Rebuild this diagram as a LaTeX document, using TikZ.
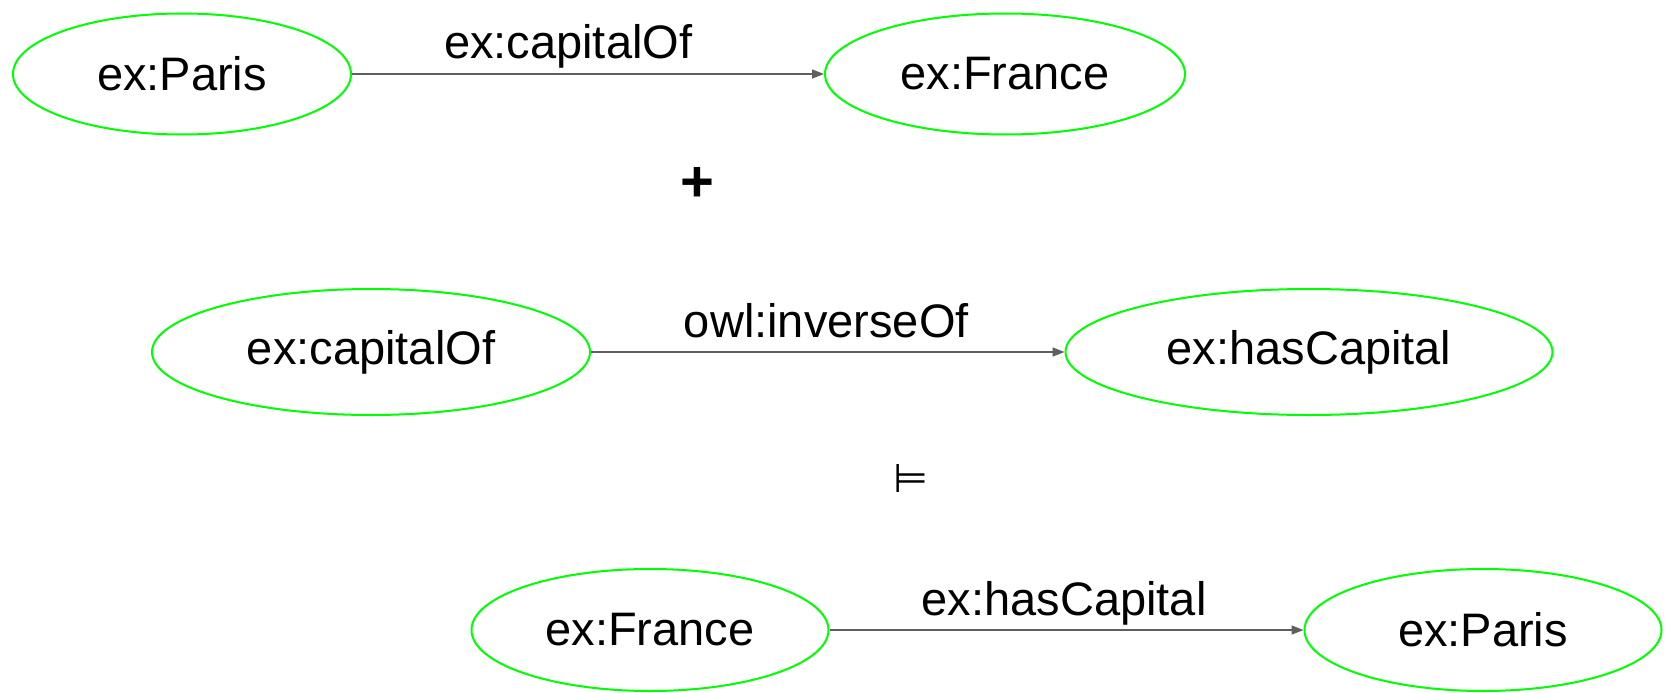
\documentclass[tikz,border=0pt]{standalone}
\usepackage{fontspec}
\setmainfont{Liberation Sans}
\newfontfamily\symfont{DejaVu Sans}
\usetikzlibrary{shapes.geometric,arrows.meta}
\definecolor{resgreen}{RGB}{0,255,0}
\definecolor{edgegray}{RGB}{95,95,95}
\begin{document}
\begin{tikzpicture}[x=1pt,y=-1pt,
  res/.style={ellipse,draw=resgreen,line width=2pt,inner sep=0pt,
    font=\fontsize{47}{52}\selectfont},
  rel/.style={draw=edgegray,line width=1.6pt,-{Triangle[length=12pt,width=9pt]}},
  rellabel/.style={anchor=base,yshift=15pt,inner sep=0pt,font=\fontsize{47}{52}\selectfont}]
\useasboundingbox (0,0) rectangle (1667,693);

% fact: Paris is the capital of France
\node[res,minimum width=338pt,minimum height=121pt] (paris1) at (182,74) {ex:Paris};
\node[res,minimum width=360pt,minimum height=121pt] (france1) at (1005,74) {ex:France};
\draw[rel] (paris1.east) -- node[rellabel,pos=0.458] {ex:capitalOf} (france1.west);

\node[font=\bfseries\fontsize{58}{60}\selectfont] (plus) at (697,184) {+};

% schema: the two properties are inverses
\node[res,minimum width=438pt,minimum height=126pt] (capof) at (371,352) {ex:capitalOf};
\node[res,minimum width=487pt,minimum height=126pt] (hascap) at (1309,352) {ex:hasCapital};
\draw[rel] (capof.east) -- node[rellabel,pos=0.497] {owl:inverseOf} (hascap.west);

\node[font=\symfont\fontsize{40}{44}\selectfont] (entails) at (911,478) {⊨};

% entailed triple
\node[res,minimum width=357pt,minimum height=122pt] (france2) at (650,630) {ex:France};
\node[res,minimum width=357pt,minimum height=122pt] (paris2) at (1483,630) {ex:Paris};
\draw[rel] (france2.east) -- node[rellabel,pos=0.495] {ex:hasCapital} (paris2.west);
\end{tikzpicture}
\end{document}
